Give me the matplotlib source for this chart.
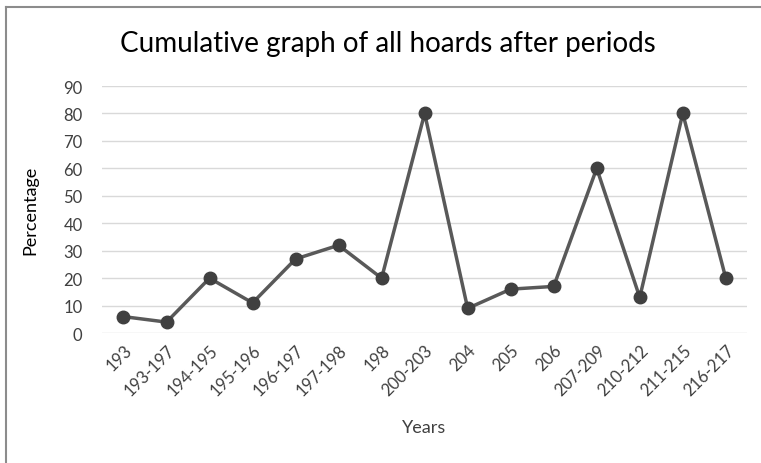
import matplotlib
matplotlib.use("Agg")
import matplotlib.pyplot as plt
from matplotlib.lines import Line2D

years = ["193", "193-197", "194-195", "195-196", "196-197", "197-198", "198",
         "200-203", "204", "205", "206", "207-209", "210-212", "211-215", "216-217"]
percentage = [6, 4, 20, 11, 27, 32, 20, 80, 9, 16, 17, 60, 13, 80, 20]
yticks = [0, 10, 20, 30, 40, 50, 60, 70, 80, 90]

plt.rcParams['font.family'] = ['Lato', 'DejaVu Sans']

fig = plt.figure(figsize=(7.61, 4.64), dpi=100)
ax = fig.add_axes([0.134, 0.280, 0.848, 0.5325])

x = list(range(len(years)))
ax.plot(x, percentage, color="#595959", lw=2.5, marker="o", markersize=9,
        markerfacecolor="#404040", markeredgecolor="#404040", zorder=3)

ax.set_xlim(-0.5, len(years) - 0.5)
ax.set_ylim(0, 90)
ax.set_yticks(yticks)
ax.set_xticks(x)
ax.set_xticklabels(years, rotation=45, ha="right", rotation_mode="anchor")
ax.tick_params(length=0, labelsize=12, labelcolor="#404040")
ax.tick_params(axis="x", pad=6)
ax.tick_params(axis="y", pad=14)
ax.grid(axis="y", color="#d9d9d9", lw=1)
ax.set_axisbelow(True)
for s in ax.spines.values():
    s.set_visible(False)

ax.set_ylabel("Percentage", fontsize=13, color="#000000", labelpad=18)
fig.text(0.557, 0.077, "Years", fontsize=13, color="#404040", ha="center", va="center")
fig.text(0.51, 0.905, "Cumulative graph of all hoards after periods", fontsize=20,
         ha="center", va="center", color="#000000")

# outer chart border (top and left only visible)
fig.add_artist(Line2D([0.008, 1.0], [0.983, 0.983], transform=fig.transFigure, color="#8c8c8c", lw=1.5))
fig.add_artist(Line2D([0.008, 0.008], [0.0, 0.983], transform=fig.transFigure, color="#8c8c8c", lw=1.5))

fig.savefig("out.png", dpi=100)
